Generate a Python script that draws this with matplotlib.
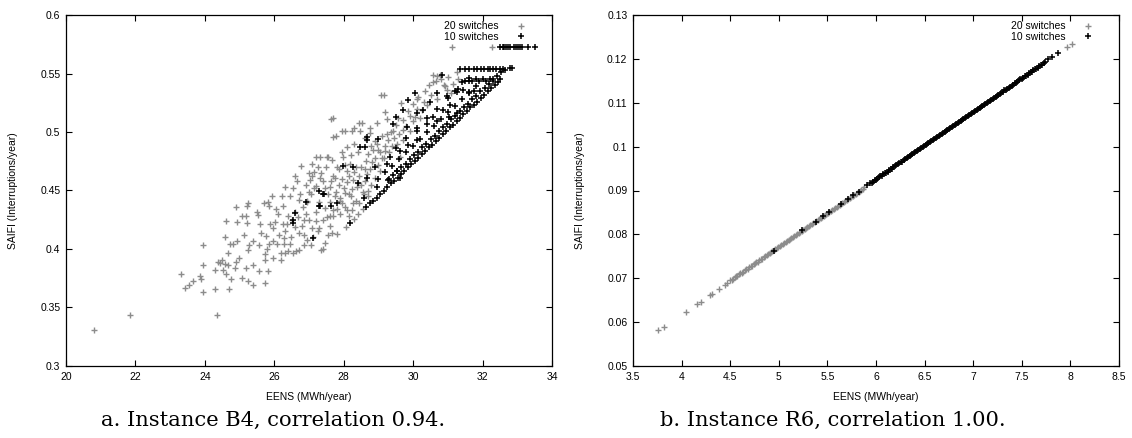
import numpy as np
import matplotlib.pyplot as plt
from matplotlib.ticker import FormatStrFormatter, MultipleLocator

# Instance B4: (EENS, SAIFI) pairs
b4_sw20 = np.array([
    (20.82, .331), (21.85, .344), (24.36, .344), (23.31, .379), (23.43, .367), (23.55, .369),
    (23.67, .373), (23.88, .374), (23.87, .377), (23.94, .363), (23.95, .386), (23.94, .403),
    (24.29, .366), (24.70, .366), (24.30, .382), (24.37, .389), (24.49, .391), (24.44, .388),
    (24.51, .382), (24.59, .387), (24.66, .386), (24.61, .379), (24.59, .410), (24.68, .397),
    (24.74, .374), (24.73, .404), (24.80, .404), (24.87, .384), (24.89, .389), (24.94, .407),
    (24.99, .392), (25.07, .375), (25.12, .412), (25.19, .384), (25.24, .373), (25.24, .399),
    (25.26, .403), (25.22, .437), (24.92, .423), (25.07, .428), (25.22, .422), (25.19, .428),
    (25.38, .369), (25.38, .386), (25.40, .407), (25.53, .429), (25.55, .381), (25.57, .403),
    (25.59, .421), (25.63, .414), (25.70, .439), (25.73, .396), (25.74, .391), (25.74, .371),
    (25.76, .411), (25.79, .400), (25.82, .381), (25.84, .404), (25.84, .437), (25.88, .421),
    (25.93, .445), (25.96, .392), (25.97, .407), (26.03, .423), (26.05, .434), (26.08, .404),
    (26.18, .397), (26.18, .391), (26.21, .445), (26.24, .421), (26.29, .404), (26.29, .409),
    (26.32, .397), (26.36, .421), (26.44, .404), (26.47, .410), (26.53, .397), (26.59, .419),
    (26.63, .398), (26.72, .399), (26.68, .427), (26.72, .414), (26.87, .403), (27.06, .403),
    (27.11, .410), (27.35, .399), (27.40, .400),
    (29.15, .532), (27.68, .512), (27.77, .497), (28.05, .501), (28.53, .508), (28.29, .503),
    (27.54, .479), (27.20, .479), (26.76, .471), (26.99, .465), (26.60, .462), (26.32, .453),
    (25.82, .440), (25.50, .432), (25.24, .439), (24.91, .436), (24.60, .424),
    (30.69, .548), (30.66, .544), (30.93, .539), (31.12, .573), (32.28, .573),
    (30.58, .549), (30.58, .543), (29.08, .532), (27.63, .511), (28.45, .508), (27.94, .501),
    (28.23, .501), (27.70, .496), (28.47, .501), (28.76, .503), (28.97, .508), (29.19, .517),
    (29.65, .525), (29.24, .511), (27.32, .479), (27.51, .479), (27.08, .473), (27.13, .466),
    (27.03, .459), (26.93, .440), (26.84, .436), (27.20, .454), (27.32, .461), (27.61, .453),
    (27.75, .461), (27.80, .470), (27.99, .479), (28.09, .467), (28.18, .473), (28.28, .459),
    (28.37, .453), (27.89, .441), (27.70, .433), (27.51, .427), (28.09, .433), (28.28, .439),
    (28.42, .430), (28.57, .447), (28.66, .464), (28.81, .474), (28.90, .461), (29.05, .467),
    (29.19, .484), (29.29, .493), (29.43, .501), (29.53, .490), (29.62, .479), (29.72, .493),
    (29.91, .501), (30.06, .513), (30.10, .528), (30.25, .519), (30.39, .523), (30.77, .549),
    (31.16, .541), (31.26, .551), (30.97, .536),
    (27.45, .452), (27.55, .447), (27.62, .458), (27.70, .462), (27.78, .449), (27.85, .455),
    (27.90, .444), (27.95, .460), (28.00, .452), (28.05, .448), (28.10, .457), (28.15, .462),
    (28.20, .445), (28.25, .451), (28.30, .466), (28.35, .441), (28.40, .456), (28.45, .462),
    (28.50, .470), (28.55, .449), (28.60, .458), (28.65, .475), (28.70, .481), (28.75, .468),
    (28.80, .455), (28.85, .485), (28.90, .478), (28.95, .490), (29.00, .472), (29.05, .483),
    (29.10, .497), (29.15, .478), (29.20, .488), (29.30, .483), (29.35, .500), (29.45, .495),
    (29.50, .506), (29.60, .498), (29.70, .510), (29.80, .505), (29.90, .514), (30.00, .509),
    (30.10, .520), (30.20, .512), (30.30, .526), (30.50, .532), (30.70, .528), (30.90, .540),
    (31.00, .547), (31.10, .533), (31.30, .545), (27.20, .432), (27.30, .440), (27.40, .425),
    (27.60, .420), (27.70, .428), (27.80, .434), (27.90, .430), (28.05, .436), (28.25, .433),
    (28.45, .439), (28.55, .434), (27.10, .418), (27.25, .415), (27.00, .425), (26.90, .430),
    (26.80, .420), (26.95, .441), (27.05, .447), (27.15, .452), (26.60, .432), (26.70, .442),
    (26.50, .425), (27.50, .470), (27.35, .465), (27.65, .476), (28.10, .487), (28.30, .490),
    (27.95, .483), (28.60, .495), (28.75, .499), (27.55, .412), (27.65, .414), (26.85, .412),
    (28.08, .419), (27.82, .413),
    (26.10, .430), (26.25, .437), (26.40, .428), (26.45, .445), (26.55, .452), (26.65, .458),
    (26.75, .447), (26.90, .455), (27.00, .449), (27.10, .462), (27.25, .470), (27.40, .458),
    (27.45, .435), (27.60, .440), (27.75, .445), (27.85, .468), (27.95, .439), (28.05, .472),
    (28.15, .447), (28.20, .480), (28.35, .470), (28.40, .483), (28.50, .455), (28.60, .468),
    (28.70, .450), (28.80, .488), (28.90, .492), (29.00, .485), (29.10, .478), (29.25, .498),
    (29.40, .488), (29.55, .512), (29.70, .502), (29.85, .518), (30.00, .524), (30.15, .530),
    (30.35, .535), (30.45, .540), (30.80, .545), (26.30, .415), (26.40, .398), (26.15, .412),
    (25.95, .418), (26.85, .425), (27.20, .424), (27.30, .418), (26.95, .408), (27.45, .405),
    (27.60, .428), (28.30, .426), (28.15, .428), (28.70, .445),
])

b4_sw10 = np.array([
    (30.82, .549), (31.40, .543), (30.05, .533), (29.86, .527), (30.68, .533), (30.49, .526),
    (30.97, .531), (31.26, .534), (31.06, .523), (30.87, .519), (30.58, .513), (30.29, .519),
    (30.10, .516), (29.72, .519), (29.51, .513), (29.43, .507), (29.83, .504), (30.10, .501),
    (30.39, .507), (30.68, .509), (31.02, .513), (31.26, .516), (28.66, .496), (29.00, .494),
    (28.47, .487), (28.61, .487), (27.99, .471), (28.28, .470), (28.42, .456), (28.66, .461),
    (28.90, .470), (29.24, .473), (29.33, .479), (29.62, .484), (29.86, .489), (30.10, .493),
    (28.95, .453), (29.29, .459), (29.53, .467), (29.62, .461), (27.40, .447), (27.63, .437),
    (27.32, .437), (28.18, .422), (27.80, .439), (28.57, .444), (28.68, .493), (27.28, .450),
    (26.92, .440), (26.61, .431), (26.53, .425), (26.55, .422), (27.11, .409), (27.30, .437),
    (27.42, .447),
    # lowest diagonal band
    (28.65, .436), (28.75, .439), (28.85, .441), (28.95, .444), (29.05, .447), (29.15, .450),
    (29.25, .453), (29.35, .456), (29.45, .458), (29.55, .461), (29.65, .464), (29.75, .467),
    (29.85, .470), (29.95, .473), (30.05, .475), (30.15, .478), (30.25, .481), (30.35, .484),
    (30.45, .487), (30.55, .489), (30.65, .492), (30.75, .495), (30.85, .498), (30.95, .501),
    (31.05, .504), (31.15, .506), (31.25, .509), (31.35, .512), (31.45, .515), (31.55, .518),
    (31.65, .521), (31.75, .523), (31.85, .526), (31.95, .529), (32.05, .532), (32.15, .535),
    (32.25, .538), (32.35, .540), (32.45, .543), (32.50, .545),
    # second band
    (29.30, .460), (29.42, .463), (29.54, .467), (29.66, .470), (29.78, .473), (29.90, .477),
    (30.02, .480), (30.14, .483), (30.26, .487), (30.38, .490), (30.50, .494), (30.62, .497),
    (30.74, .501), (30.86, .504), (30.98, .507), (31.10, .511), (31.22, .514), (31.34, .518),
    (31.46, .521), (31.58, .524), (31.70, .528), (31.82, .531), (31.94, .535), (32.06, .538),
    (32.18, .541), (32.30, .545), (32.42, .548), (32.54, .551), (32.66, .553), (32.78, .555),
    (32.85, .555),
    # inner bands
    (29.00, .460), (29.20, .466), (29.40, .471), (29.60, .477), (29.80, .483), (30.00, .488),
    (30.20, .494), (30.40, .500), (30.60, .505), (30.80, .511), (31.00, .517), (31.20, .522),
    (31.40, .528), (31.60, .534), (31.80, .539),
    (29.50, .486), (29.80, .495), (30.10, .503), (30.40, .512), (30.70, .520), (31.00, .529),
    (31.30, .537), (31.60, .546),
    # top rows
    (31.35, .554), (31.50, .554), (31.62, .554), (31.75, .554), (31.85, .554), (31.95, .554),
    (32.05, .554), (32.15, .554), (32.22, .554), (32.30, .554), (32.40, .554), (32.50, .554),
    (32.60, .554),
    (31.50, .544), (31.60, .544), (31.70, .544), (31.80, .545), (31.90, .544), (32.00, .545),
    (32.10, .544), (32.20, .545), (32.30, .544),
    (31.20, .535), (31.45, .536), (31.60, .533), (31.75, .535),
    (32.50, .573), (32.58, .573), (32.63, .573), (32.68, .573), (32.72, .573), (32.78, .573),
    (32.90, .573), (32.97, .573), (33.02, .573), (33.08, .573), (33.15, .573), (33.30, .573),
    (33.50, .573),
])

# Instance R6
r6_sw20 = np.array([
    (3.76, .0581), (3.82, .0588), (4.05, .0624), (4.16, .0641), (4.20, .0647), (4.29, .0662),
    (4.31, .0664), (4.38, .0675), (4.45, .0685), (4.47, .0689),
    (4.50, .0695), (4.53, .0699), (4.56, .0704), (4.59, .0709), (4.62, .0713), (4.65, .0718),
    (4.68, .0722), (4.71, .0727), (4.74, .0732), (4.77, .0736), (4.80, .0741), (4.83, .0745),
    (4.86, .0750), (4.89, .0755), (4.92, .0759), (4.95, .0764), (4.98, .0768), (5.01, .0773),
    (5.04, .0778), (5.07, .0782), (5.10, .0787), (5.13, .0791), (5.16, .0796), (5.19, .0801),
    (5.22, .0805), (5.25, .0810), (5.28, .0814), (5.31, .0819), (5.34, .0824), (5.37, .0828),
    (5.40, .0833), (5.43, .0838), (5.46, .0842), (5.49, .0847), (5.52, .0851), (5.55, .0856),
    (5.58, .0861), (5.61, .0865), (5.64, .0870), (5.67, .0874), (5.70, .0879), (5.73, .0884),
    (5.76, .0888), (5.79, .0893), (5.82, .0897), (5.85, .0902), (5.88, .0907),
    (4.515, .0697), (4.545, .0702), (4.575, .0706), (4.605, .0711), (4.635, .0715),
    (4.665, .0720), (4.695, .0725), (4.725, .0729), (4.755, .0734), (4.785, .0738),
    (4.815, .0743), (4.845, .0748), (4.875, .0752), (4.905, .0757), (4.935, .0761),
    (4.965, .0766), (4.995, .0771), (5.025, .0775), (5.055, .0780), (5.085, .0784),
    (5.115, .0789), (5.145, .0794), (5.175, .0798), (5.205, .0803), (5.235, .0808),
    (5.265, .0812), (5.295, .0817), (5.325, .0821), (5.355, .0826), (5.385, .0831),
    (5.415, .0835), (5.445, .0840), (5.475, .0844), (5.505, .0849), (5.535, .0854),
    (5.565, .0858), (5.595, .0863), (5.625, .0867), (5.655, .0872), (5.685, .0877),
    (5.715, .0881), (5.745, .0886), (5.775, .0890), (5.805, .0895), (5.835, .0900),
    (5.865, .0904),
    (7.96, .1226), (8.02, .1235),
])

r6_sw10 = np.array([
    (4.95, .0763), (5.24, .0810), (5.38, .0829), (5.45, .0842), (5.52, .0851), (5.64, .0869),
    (5.71, .0881), (5.76, .0890), (5.82, .0897), (5.91, .0912),
    (5.94, .0916), (5.97, .0920), (6.00, .0925), (6.03, .0930), (6.06, .0934), (6.09, .0939),
    (6.12, .0943), (6.15, .0948), (6.18, .0953), (6.21, .0957), (6.24, .0962), (6.27, .0966),
    (6.30, .0971), (6.33, .0976), (6.36, .0980), (6.39, .0985), (6.42, .0989), (6.45, .0994),
    (6.48, .0999), (6.51, .1003), (6.54, .1008), (6.57, .1012), (6.60, .1017), (6.63, .1022),
    (6.66, .1026), (6.69, .1031), (6.72, .1036), (6.75, .1040), (6.78, .1045), (6.81, .1049),
    (6.84, .1054), (6.87, .1059), (6.90, .1063), (6.93, .1068), (6.96, .1072), (6.99, .1077),
    (7.02, .1082), (7.05, .1086), (7.08, .1091), (7.11, .1095), (7.14, .1100), (7.17, .1105),
    (7.20, .1109), (7.23, .1114), (7.26, .1118), (7.29, .1123), (7.32, .1128), (7.35, .1132),
    (7.38, .1137), (7.41, .1141), (7.44, .1146), (7.47, .1151), (7.50, .1155), (7.53, .1160),
    (7.56, .1164), (7.59, .1169), (7.62, .1174), (7.65, .1178), (7.68, .1183), (7.71, .1187),
    (7.74, .1192), (7.77, .1199), (7.81, .1204), (7.87, .1213),
    (5.955, .0918), (5.985, .0923), (6.015, .0927), (6.045, .0932), (6.075, .0937),
    (6.105, .0941), (6.135, .0946), (6.165, .0950), (6.195, .0955), (6.225, .0960),
    (6.255, .0964), (6.285, .0969), (6.315, .0973), (6.345, .0978), (6.375, .0983),
    (6.405, .0987), (6.435, .0992), (6.465, .0996), (6.495, .1001), (6.525, .1006),
    (6.555, .1010), (6.585, .1015), (6.615, .1019), (6.645, .1024), (6.675, .1029),
    (6.705, .1033), (6.735, .1038), (6.765, .1042), (6.795, .1047), (6.825, .1052),
    (6.855, .1056), (6.885, .1061), (6.915, .1065), (6.945, .1070), (6.975, .1075),
    (7.005, .1079), (7.035, .1084), (7.065, .1088), (7.095, .1093), (7.125, .1098),
    (7.155, .1102), (7.185, .1107), (7.215, .1111), (7.245, .1116), (7.275, .1121),
    (7.305, .1125), (7.335, .1130), (7.365, .1134), (7.395, .1139), (7.425, .1144),
    (7.455, .1148), (7.485, .1153), (7.515, .1157), (7.545, .1162), (7.575, .1167),
    (7.605, .1171), (7.635, .1176), (7.665, .1180), (7.695, .1185), (7.725, .1190),
])

labels = ["20 switches", "10 switches"]
captions = ["a. Instance B4, correlation 0.94.", "b. Instance R6, correlation 1.00."]

plt.rcParams['font.family'] = ['Liberation Sans', 'DejaVu Sans']

W, H = 1132, 438
fig = plt.figure(figsize=(W / 100, H / 100), dpi=100)
ax1 = fig.add_axes([66 / W, 1 - 366 / H, 486 / W, 351 / H])
ax2 = fig.add_axes([633 / W, 1 - 366 / H, 486 / W, 351 / H])

def style(ax, xlim, ylim, xstep, ystep):
    ax.set_xlim(*xlim)
    ax.set_ylim(*ylim)
    ax.xaxis.set_major_locator(MultipleLocator(xstep))
    ax.yaxis.set_major_locator(MultipleLocator(ystep))
    ax.xaxis.set_major_formatter(FormatStrFormatter('%g'))
    ax.yaxis.set_major_formatter(FormatStrFormatter('%g'))
    ax.tick_params(direction='in', length=4, width=0.8, top=True, right=True,
                   labelsize=7.5, pad=4)
    for s in ax.spines.values():
        s.set_linewidth(0.9)
    ax.set_xlabel("EENS (MWh/year)", fontsize=7.5)
    ax.set_ylabel("SAIFI (Interruptions/year)", fontsize=7.5)
    ax.xaxis.set_label_coords(0.5, -26 / 351)
    ax.yaxis.set_label_coords(-48 / 486, 0.5)
    # gnuplot style key: text first, sample to the right
    ax.legend(loc='upper right', bbox_to_anchor=(1 - 16 / 486, 1), markerfirst=False,
              frameon=False, fontsize=7.5, handlelength=1.6, handletextpad=1.4,
              labelspacing=0.05, borderaxespad=0.2)

for ax, s20, s10 in [(ax1, b4_sw20, b4_sw10), (ax2, r6_sw20, r6_sw10)]:
    ax.plot(s20[:, 0], s20[:, 1], '+', color='#8c8c8c', ms=5, mew=1.0, label=labels[0])
    ax.plot(s10[:, 0], s10[:, 1], '+', color='black', ms=5, mew=1.1, label=labels[1])

style(ax1, (20, 34), (0.3, 0.6), 2, 0.05)
style(ax2, (3.5, 8.5), (0.05, 0.13), 0.5, 0.01)

for cx, cap in zip([273, 833], captions):
    fig.text(cx / W, 1 - 420 / H, cap, ha='center', va='center',
             fontsize=15.1, family=['DejaVu Serif'])

fig.savefig("out.png", dpi=100)
